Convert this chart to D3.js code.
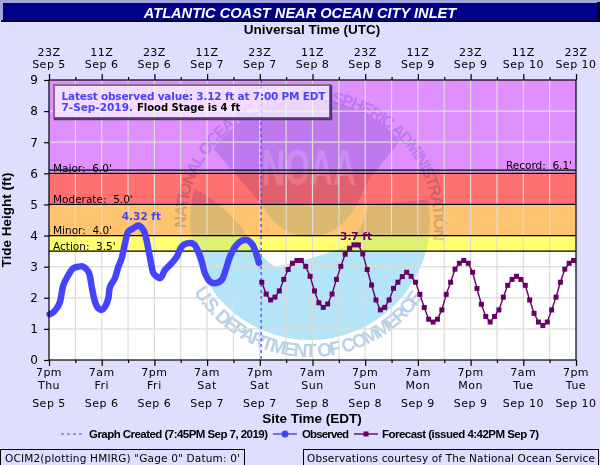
<!DOCTYPE html>
<html>
<head>
<meta charset="utf-8">
<script src="https://cdn.jsdelivr.net/npm/d3@7"></script>
<style>
html, body { margin: 0; padding: 0; background: #dedeff; }
svg { display: block; }
text { font-family: "DejaVu Sans", sans-serif; font-size: 11px; fill: #000; }
.bold { font-family: "Liberation Sans", Arial, sans-serif; font-weight: bold; }
.axis path { display: none; }
.axis line { stroke: #000; stroke-width: 1.2; }
</style>
</head>
<body>
<svg width="600" height="465"></svg>
<script>
// hours since 7pm Sep 5
var obsHours = [0.1, 0.61, 1.75, 2.5, 3.27, 4.4, 5.54, 6.68, 7.82, 8.96, 9.34, 9.72, 10.48, 11.24, 12, 12.76, 13.5, 13.9, 15, 15.8, 16.55, 17.3, 18.07, 19.2, 20.35, 21.5, 22.2, 22.8, 23.4, 23.8, 25.3, 26.4, 27.9, 29.1, 30.2, 31.4, 32.9, 34, 34.8, 35.5, 36.7, 37.8, 39.3, 40.1, 41.2, 42.4, 43.5, 45, 46.2, 46.9, 47.8];
var obsValues = [1.47, 1.5, 1.66, 1.87, 2.41, 2.73, 2.95, 3, 3, 2.84, 2.68, 2.36, 1.87, 1.66, 1.61, 1.71, 1.98, 2.36, 2.63, 3, 3.27, 3.75, 4.13, 4.23, 4.32, 4.18, 3.86, 3.43, 3, 2.79, 2.63, 2.89, 3.11, 3.32, 3.64, 3.75, 3.73, 3.48, 3.16, 2.79, 2.52, 2.47, 2.57, 2.84, 3.32, 3.64, 3.8, 3.86, 3.73, 3.54, 3.12];

// hourly forecast, first point just after the graph was created
var fcstStart = 48.45;
var fcstValues = [2.5, 2.12, 1.93, 2.02, 2.22, 2.59, 2.91, 3.11, 3.2, 3.2, 3.01, 2.69, 2.22, 1.84, 1.69, 1.8, 2.12, 2.59, 3.01, 3.4, 3.59, 3.7, 3.7, 3.41, 2.91, 2.41, 1.93, 1.61, 1.69, 1.93, 2.3, 2.5, 2.68, 2.82, 2.69, 2.5, 2.11, 1.69, 1.31, 1.22, 1.31, 1.61, 2.11, 2.5, 2.92, 3.11, 3.2, 3.11, 2.82, 2.3, 1.79, 1.4, 1.22, 1.4, 1.61, 2.02, 2.4, 2.59, 2.69, 2.59, 2.4, 1.93, 1.5, 1.22, 1.11, 1.22, 1.61, 2.02, 2.5, 2.92, 3.11, 3.2];

var createdHour = 48.3;

var majorHours = [0, 12, 24, 36, 48, 60, 72, 84, 96, 108, 120];
var zTimes = ["23Z", "11Z", "23Z", "11Z", "23Z", "11Z", "23Z", "11Z", "23Z", "11Z", "23Z"];
var zDates = ["Sep 5", "Sep 6", "Sep 6", "Sep 7", "Sep 7", "Sep 8", "Sep 8", "Sep 9", "Sep 9", "Sep 10", "Sep 10"];
var siteTimes = ["7pm", "7am", "7pm", "7am", "7pm", "7am", "7pm", "7am", "7pm", "7am", "7pm"];
var siteDays = ["Thu", "Fri", "Fri", "Sat", "Sat", "Sun", "Sun", "Mon", "Mon", "Tue", "Tue"];
var siteDates = ["Sep 5", "Sep 6", "Sep 6", "Sep 7", "Sep 7", "Sep 8", "Sep 8", "Sep 9", "Sep 9", "Sep 10", "Sep 10"];

var bandEdges = [0, 3.5, 4, 5, 6, 9];
var bandColors = ["#ffffff", "#ffff70", "#ffc470", "#ff7070", "#e08fff"];
var lobeTints = ["#b4e4f8", "#e0f070", "#dcb870", "#e06070", "none"];
var skyTints = ["#b4e4f8", "#e0f070", "#dcb870", "#e06070", "#c078ee"];

var stageLines = [3.5, 4, 5, 6, 6.1];
var stageLabels = ["Action:  3.5'", "Minor:  4.0'", "Moderate:  5.0'", "Major:  6.0'"];
var stageValues = [3.5, 4, 5, 6];

var svg = d3.select("svg"),
    left = 49, right = 576, top_ = 80, bottom = 360;

var x = d3.scaleLinear().domain([0, 120]).range([left, right]),
    y = d3.scaleLinear().domain([0, 9]).range([bottom, top_]);

var observed = obsHours.map(function(h, i) { return {h: h, v: obsValues[i]}; });
var forecast = fcstValues.map(function(v, i) { return {h: fcstStart + i, v: v}; });

// title bar
svg.append("rect").attr("width", 600).attr("height", 3).attr("fill", "#a4a4dc");
svg.append("rect").attr("x", 0).attr("y", 3).attr("width", 3).attr("height", 17).attr("fill", "#a4a4dc");
svg.append("rect").attr("x", 3).attr("y", 3).attr("width", 594).attr("height", 17).attr("fill", "#000088");
svg.append("rect").attr("x", 1).attr("y", 20).attr("width", 599).attr("height", 2).attr("fill", "#000033");
svg.append("rect").attr("x", 597).attr("y", 2).attr("width", 3).attr("height", 19).attr("fill", "#000033");
svg.append("text").attr("class", "bold").attr("x", 300).attr("y", 17.5)
    .attr("text-anchor", "middle").style("font-size", "14.6px").style("font-style", "italic")
    .style("fill", "#fff").text("ATLANTIC COAST NEAR OCEAN CITY INLET");

// flood bands
svg.append("g").selectAll("rect")
    .data(bandColors)
  .enter().append("rect")
    .attr("x", left)
    .attr("width", right - left)
    .attr("y", function(d, i) { return y(bandEdges[i + 1]); })
    .attr("height", function(d, i) { return y(bandEdges[i]) - y(bandEdges[i + 1]); })
    .attr("fill", function(d) { return d; });

// noaa watermark
var cx = 310, cy = 220, defs = svg.append("defs");
defs.append("clipPath").attr("id", "disk").append("circle").attr("cx", cx).attr("cy", cy).attr("r", 120);
defs.append("clipPath").attr("id", "lobe").append("path")
    .attr("d", "M180,184 L192,187 Q222,203 242,228 Q258,256 275,267 Q310,260 345,247 Q362,232 368,206 L440,198 L440,345 L180,345 Z");
defs.append("clipPath").attr("id", "sky").append("path")
    .attr("d", "M213,148 L250,90 L370,90 L403,137 L370,178 L355,208 Q338,236 308,237 Q280,236 262,205 Z");
defs.append("path").attr("id", "ringTop")
    .attr("d", "M" + (cx - 124) + "," + (cy + 8) + " A124,124 0 1,1 " + (cx + 121) + "," + (cy + 32));
defs.append("path").attr("id", "ringBottom")
    .attr("d", "M" + (cx - 116) + "," + (cy + 72) + " A136,136 0 0,0 " + (cx + 116) + "," + (cy + 72));

var mark = svg.append("g").attr("clip-path", "url(#disk)");
[["lobe", lobeTints], ["sky", skyTints]].forEach(function(part) {
  mark.append("g").attr("clip-path", "url(#" + part[0] + ")").selectAll("rect")
      .data(part[1])
    .enter().append("rect")
      .attr("x", left)
      .attr("width", right - left)
      .attr("y", function(d, i) { return y(bandEdges[i + 1]); })
      .attr("height", function(d, i) { return y(bandEdges[i]) - y(bandEdges[i + 1]); })
      .attr("fill", function(d) { return d; });
});
svg.append("text").attr("class", "bold").attr("x", 262).attr("y", 185)
    .attr("textLength", 94).attr("lengthAdjust", "spacingAndGlyphs")
    .style("font-size", "50px").style("fill", "rgba(255,255,255,0.16)").text("NOAA");
svg.append("text").attr("class", "bold")
    .style("font-size", "16.5px").style("fill", "#d4d4f2").style("mix-blend-mode", "multiply")
  .append("textPath").attr("href", "#ringTop").attr("textLength", 408)
    .text("NATIONAL OCEANIC AND ATMOSPHERIC ADMINISTRATION");
svg.append("text").attr("class", "bold")
    .style("font-size", "19px").style("fill", "#b8d0e8")
  .append("textPath").attr("href", "#ringBottom").attr("textLength", 272)
    .text("U.S. DEPARTMENT OF COMMERCE");

// grid
var grid = svg.append("g").attr("stroke", "#dcdcd8").attr("stroke-width", 1.2);
grid.selectAll(".v").data(d3.range(6, 120, 6))
  .enter().append("line").attr("class", "v")
    .attr("x1", x).attr("x2", x).attr("y1", top_).attr("y2", bottom);
grid.selectAll(".h").data(d3.range(1, 9))
  .enter().append("line").attr("class", "h")
    .attr("y1", y).attr("y2", y).attr("x1", left).attr("x2", right);

// stage lines
svg.append("g").selectAll("line").data(stageLines)
  .enter().append("line")
    .attr("x1", left).attr("x2", right)
    .attr("y1", y).attr("y2", y)
    .attr("stroke", "#000").attr("stroke-width", 1.2);
svg.append("g").selectAll("text").data(stageLabels)
  .enter().append("text")
    .attr("x", left + 4)
    .attr("y", function(d, i) { return y(stageValues[i]) - 1.5; })
    .style("white-space", "pre")
    .style("font-size", "10.5px")
    .text(function(d) { return d; });
svg.append("text").attr("x", right - 4).attr("y", y(6.1) - 1.5).attr("text-anchor", "end")
    .style("white-space", "pre").style("font-size", "10.5px").text("Record:  6.1'");

// created marker
svg.append("line")
    .attr("x1", x(createdHour)).attr("x2", x(createdHour))
    .attr("y1", top_).attr("y2", bottom)
    .attr("stroke", "#4444ff").attr("stroke-width", 1.2).attr("stroke-dasharray", "3,3");

// series
var line = d3.line()
    .x(function(d) { return x(d.h); })
    .y(function(d) { return y(d.v); });

svg.append("path").datum(forecast)
    .attr("fill", "none").attr("stroke", "#660066").attr("stroke-width", 1.4).attr("d", line);
svg.append("g").selectAll("path").data(forecast)
  .enter().append("path")
    .attr("d", d3.symbol().type(d3.symbolSquare).size(25))
    .attr("transform", function(d) { return "translate(" + x(d.h) + "," + y(d.v) + ")"; })
    .attr("fill", "#660066");

svg.append("path").datum(observed)
    .attr("fill", "none").attr("stroke", "#4444ff").attr("stroke-width", 6.5)
    .attr("stroke-linejoin", "round").attr("stroke-linecap", "round")
    .attr("d", line.curve(d3.curveCatmullRom));
line.curve(d3.curveLinear);

var obsPeak = d3.greatest(observed, function(d) { return d.v; });
var fcstPeak = d3.greatest(forecast, function(d) { return d.v; });
svg.append("text")
    .attr("x", x(obsPeak.h) + 3).attr("y", y(obsPeak.v) - 6).attr("text-anchor", "middle")
    .style("font-weight", "bold").style("font-size", "10.5px").style("fill", "#4444ff").text("4.32 ft");
svg.append("text")
    .attr("x", x(fcstPeak.h) + 2).attr("y", y(fcstPeak.v) - 5).attr("text-anchor", "middle")
    .style("font-weight", "bold").style("font-size", "10.5px").style("fill", "#660066").text("3.7 ft");

// frame
svg.append("rect").attr("x", left).attr("y", top_).attr("width", right - left).attr("height", bottom - top_)
    .attr("fill", "none").attr("stroke", "#000").attr("stroke-width", 1.2);

// axes
var axisLeft = d3.axisLeft(y).tickValues(d3.range(0, 10)).tickSize(5).tickPadding(6).tickFormat(d3.format("d"));
svg.append("g").attr("class", "axis").attr("transform", "translate(" + left + ",0)").call(axisLeft)
    .selectAll("text").style("font-size", "12px");

function hourAxis(axis, offset, sign) {
  var g = svg.append("g").attr("class", "axis").attr("transform", "translate(0," + offset + ")");
  g.call(axis.tickValues(d3.range(0, 121, 6)).tickSize(3));
  g.selectAll(".tick text").remove();
  g.selectAll(".tick line").filter(function(d) { return d % 12 == 0; }).attr("y2", sign * 6);
}
hourAxis(d3.axisTop(x), top_, -1);
hourAxis(d3.axisBottom(x), bottom, 1);

function labelRow(list, yPos) {
  svg.append("g").selectAll("text").data(list)
    .enter().append("text")
      .attr("x", function(d, i) { return x(majorHours[i]); })
      .attr("y", yPos)
      .attr("text-anchor", "middle")
      .style("letter-spacing", "0.5px")
      .text(function(d) { return d; });
}
labelRow(zTimes, 55.5);
labelRow(zDates, 67.5);
labelRow(siteTimes, 376);
labelRow(siteDays, 389);
labelRow(siteDates, 407);

// axis titles
svg.append("text").attr("class", "bold").attr("x", 312).attr("y", 34).attr("text-anchor", "middle")
    .style("font-size", "13.5px").text("Universal Time (UTC)");
svg.append("text").attr("class", "bold").attr("x", 312).attr("y", 423).attr("text-anchor", "middle")
    .style("font-size", "13.5px").text("Site Time (EDT)");
svg.append("text").attr("class", "bold").attr("transform", "translate(11,220) rotate(-90)").attr("text-anchor", "middle")
    .style("font-size", "13.5px").text("Tide Height (ft)");

// note box
svg.append("rect").attr("x", 54).attr("y", 85).attr("width", 276).attr("height", 33)
    .attr("fill", "rgba(255,255,255,0.68)").attr("stroke", "#807090").attr("stroke-width", 2);
svg.append("path").attr("d", "M331,85 V119 H54")
    .attr("fill", "none").attr("stroke", "#4c3a70").attr("stroke-width", 2.5);
svg.append("text").attr("x", 61.5).attr("y", 100).attr("textLength", 264)
    .style("font-weight", "bold").style("font-size", "10.5px").style("fill", "#4444ff")
    .text("Latest observed value: 3.12 ft at 7:00 PM EDT");
var note = svg.append("text").attr("x", 61.5).attr("y", 111)
    .style("font-weight", "bold").style("font-size", "10.5px");
note.append("tspan").style("fill", "#4444ff").text("7-Sep-2019.");
note.append("tspan").attr("dx", 4).style("font-size", "10px").text("Flood Stage is 4 ft");

// legend
var legendY = 434;
svg.append("line").attr("x1", 61).attr("x2", 83).attr("y1", legendY).attr("y2", legendY)
    .attr("stroke", "#4444ff").attr("stroke-dasharray", "3,3").attr("stroke-width", 1.2);
svg.append("text").attr("class", "bold").attr("x", 89).attr("y", legendY + 4).attr("textLength", 179)
    .style("font-size", "11.5px").text("Graph Created (7:45PM Sep 7, 2019)");
svg.append("line").attr("x1", 273).attr("x2", 297).attr("y1", legendY).attr("y2", legendY)
    .attr("stroke", "#4444ff").attr("stroke-width", 1.4);
svg.append("circle").attr("cx", 285).attr("cy", legendY).attr("r", 3.5).attr("fill", "#4444ff");
svg.append("text").attr("class", "bold").attr("x", 302).attr("y", legendY + 4).attr("textLength", 47)
    .style("font-size", "11.5px").text("Observed");
svg.append("line").attr("x1", 354).attr("x2", 378).attr("y1", legendY).attr("y2", legendY)
    .attr("stroke", "#660066").attr("stroke-width", 1.4);
svg.append("rect").attr("x", 363.5).attr("y", legendY - 2.5).attr("width", 5).attr("height", 5).attr("fill", "#660066");
svg.append("text").attr("class", "bold").attr("x", 382).attr("y", legendY + 4).attr("textLength", 157)
    .style("font-size", "11.5px").text("Forecast (issued 4:42PM Sep 7)");

// footer boxes
svg.append("rect").attr("x", 0.5).attr("y", 449.5).attr("width", 244).attr("height", 20)
    .attr("fill", "none").attr("stroke", "#000");
svg.append("text").attr("x", 5).attr("y", 462).style("font-size", "10.5px").attr("textLength", 235)
    .text("OCIM2(plotting HMIRG) \"Gage 0\" Datum: 0'");
svg.append("rect").attr("x", 303.5).attr("y", 449.5).attr("width", 295).attr("height", 20)
    .attr("fill", "none").attr("stroke", "#000");
svg.append("text").attr("x", 307).attr("y", 462).style("font-size", "10.5px").attr("textLength", 288)
    .text("Observations courtesy of The National Ocean Service");
</script>
</body>
</html>
